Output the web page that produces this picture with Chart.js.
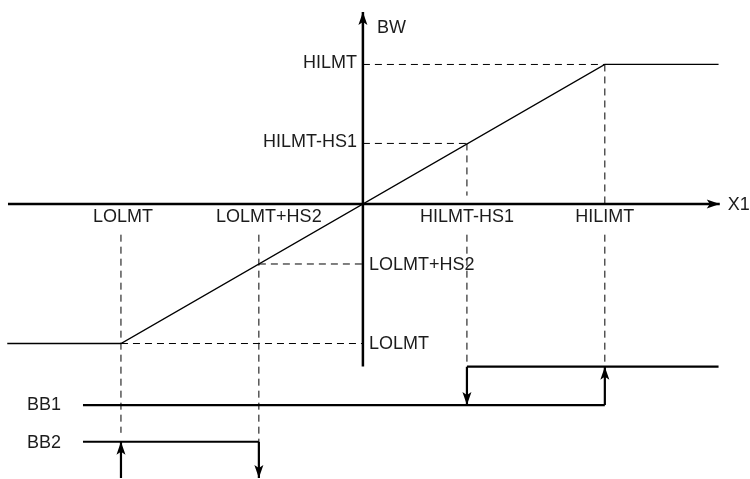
<!DOCTYPE html>
<html>
<head>
<meta charset="utf-8">
<script src="https://cdn.jsdelivr.net/npm/chart.js@4/dist/chart.umd.min.js"></script>
<style>
    body { margin: 0; background: #fff; }
    #wrap { width: 750px; height: 479px; position: relative; }
</style>
</head>
<body>
<div id="wrap"><canvas id="diagram"></canvas></div>
<script>
// Limit levels (origin = 0, HILMT = +1, LOLMT = -1)
const xLimitNames = ['LOLMT', 'LOLMT+HS2', 'HILMT-HS1', 'HILIMT'];
const xLimits = [-1, -0.43, 0.43, 1];
const yLimitNames = ['LOLMT', 'LOLMT+HS2', 'HILMT-HS1', 'HILMT'];
const yLimits = [-1, -0.43, 0.434, 1];

// Output curve BW(X1)
const curveX = [-1.47, -1, 1, 1.47];
const curveY = [-1, -1, 1, 1];

// Axis extents
const axisX = [-1.467, 1.475];
const axisY = [-1.164, 1.376];

// Alarm outputs: low / high levels
const bbStartX = -1.157;
const bbEndX = 1.47;
const bb1Levels = [-1.441, -1.166];
const bb2Levels = [-1.964, -1.704];
const labelGapY = -0.22;

// Colors
const ink = '#000000';
const textColor = '#1c1c1c';

const pts = (xs, ys) => xs.map((x, i) => ({ x: x, y: ys[i] }));

function solid(data, width) {
    return { data: data, borderColor: ink, borderWidth: width, showLine: true,
             pointRadius: 0, fill: false, tension: 0 };
}
function dashed(data) {
    return { data: data, borderColor: ink, borderWidth: 1, borderDash: [7, 5],
             showLine: true, pointRadius: 0, fill: false, tension: 0 };
}

const datasets = [
    // axes
    solid(pts(axisX, [0, 0]), 2.5),
    solid(pts([0, 0], axisY), 2.5),
    // curve
    solid(pts(curveX, curveY), 1.3),
    // horizontal guides
    dashed(pts([0, xLimits[3]], [yLimits[3], yLimits[3]])),
    dashed(pts([0, xLimits[2]], [yLimits[2], yLimits[2]])),
    dashed(pts([xLimits[1], 0], [yLimits[1], yLimits[1]])),
    dashed(pts([xLimits[0], 0], [yLimits[0], yLimits[0]])),
    // vertical guides
    dashed(pts([xLimits[3], xLimits[3]], [yLimits[3], 0])),
    dashed(pts([xLimits[3], xLimits[3]], [labelGapY, bb1Levels[1]])),
    dashed(pts([xLimits[2], xLimits[2]], [yLimits[2], 0.06])),
    dashed(pts([xLimits[2], xLimits[2]], [labelGapY, bb1Levels[1]])),
    dashed(pts([xLimits[1], xLimits[1]], [labelGapY, bb2Levels[1]])),
    dashed(pts([xLimits[0], xLimits[0]], [labelGapY, -1.64])),
    // BB1
    solid(pts([bbStartX, xLimits[3]], [bb1Levels[0], bb1Levels[0]]), 2.2),
    solid(pts([xLimits[2], bbEndX], [bb1Levels[1], bb1Levels[1]]), 2.2),
    solid(pts([xLimits[2], xLimits[2]], [bb1Levels[1], bb1Levels[0]]), 2.2),
    solid(pts([xLimits[3], xLimits[3]], [bb1Levels[0], bb1Levels[1]]), 2.2),
    // BB2
    solid(pts([bbStartX, xLimits[1]], [bb2Levels[1], bb2Levels[1]]), 2.2),
    solid(pts([xLimits[0], xLimits[0]], [bb2Levels[0], bb2Levels[1]]), 2.2),
    solid(pts([xLimits[1], xLimits[1]], [bb2Levels[1], bb2Levels[0]]), 2.2)
];

// Arrow tips: [x, y, direction]
const arrows = [
    [0, axisY[1], 'up'],
    [axisX[1], 0, 'right'],
    [xLimits[3], bb1Levels[1], 'up'],
    [xLimits[2], bb1Levels[0], 'down'],
    [xLimits[0], bb2Levels[1], 'up'],
    [xLimits[1], bb2Levels[0], 'down']
];

const arrowPlugin = {
    id: 'arrowHeads',
    afterDatasetsDraw(chart) {
        const ctx = chart.ctx;
        const xs = chart.scales.x, ys = chart.scales.y;
        ctx.save();
        ctx.fillStyle = ink;
        arrows.forEach(([x, y, dir]) => {
            const px = xs.getPixelForValue(x), py = ys.getPixelForValue(y);
            const len = 13, half = 4.5;
            ctx.beginPath();
            ctx.moveTo(px, py);
            if (dir === 'up') {
                ctx.lineTo(px - half, py + len); ctx.lineTo(px, py + len - 3); ctx.lineTo(px + half, py + len);
            } else if (dir === 'down') {
                ctx.lineTo(px - half, py - len); ctx.lineTo(px, py - len + 3); ctx.lineTo(px + half, py - len);
            } else {
                ctx.lineTo(px - len, py - half); ctx.lineTo(px - len + 3, py); ctx.lineTo(px - len, py + half);
            }
            ctx.closePath();
            ctx.fill();
        });
        ctx.restore();
    }
};

const labelPlugin = {
    id: 'labels',
    afterDatasetsDraw(chart) {
        const ctx = chart.ctx;
        const xs = chart.scales.x, ys = chart.scales.y;
        const X = v => xs.getPixelForValue(v), Y = v => ys.getPixelForValue(v);
        ctx.save();
        ctx.fillStyle = textColor;
        ctx.font = '18px "Liberation Sans", Arial, sans-serif';
        ctx.textBaseline = 'middle';

        // axis titles
        ctx.textAlign = 'left';
        ctx.fillText('BW', X(0) + 14, 28);
        ctx.fillText('X1', X(axisX[1]) + 8, Y(0) + 1);

        // labels under the X axis
        ctx.textAlign = 'center';
        const xOffsets = [2, 10, 0, 0];
        xLimitNames.forEach((name, i) => {
            ctx.fillText(name, X(xLimits[i]) + xOffsets[i], Y(0) + 13);
        });

        // labels beside the Y axis
        yLimitNames.forEach((name, i) => {
            if (yLimits[i] > 0) {
                ctx.textAlign = 'right';
                ctx.fillText(name, X(0) - 6, Y(yLimits[i]) - 1);
            } else {
                ctx.textAlign = 'left';
                ctx.fillText(name, X(0) + 6, Y(yLimits[i]) + 1);
            }
        });

        // output names
        ctx.textAlign = 'left';
        ctx.fillText('BB1', 27, Y(bb1Levels[0]));
        ctx.fillText('BB2', 27, Y(bb2Levels[1]) + 1);
        ctx.restore();
    }
};

new Chart(document.getElementById('diagram'), {
    type: 'scatter',
    data: { datasets: datasets },
    options: {
        responsive: true,
        maintainAspectRatio: false,
        animation: false,
        layout: { padding: 0 },
        plugins: {
            legend: { display: false },
            tooltip: { enabled: false }
        },
        scales: {
            x: { type: 'linear', min: -1.5, max: 1.6, display: false },
            y: { type: 'linear', min: -1.971, max: 1.462, display: false }
        }
    },
    plugins: [arrowPlugin, labelPlugin]
});
</script>
</body>
</html>
